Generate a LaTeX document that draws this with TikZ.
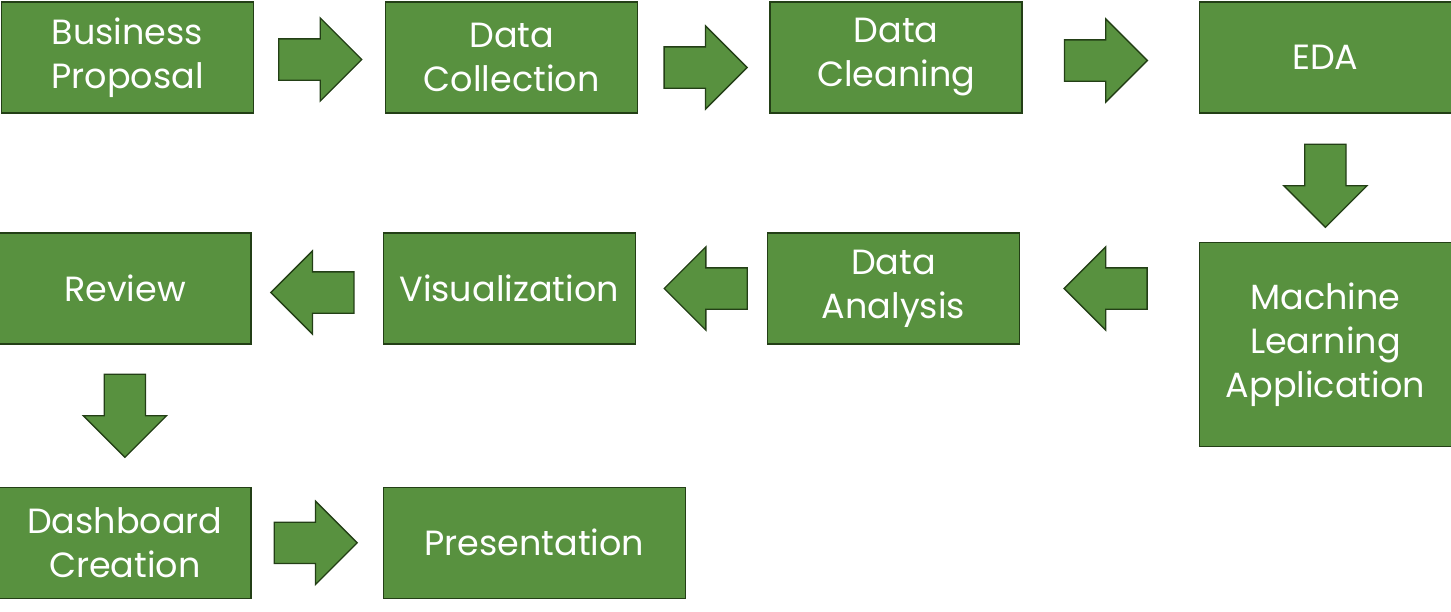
\documentclass[tikz,border=0pt]{standalone}
\usepackage{fontspec}
\setmainfont{Poppins}
\usepackage{xcolor}
\usepackage{tikz}
\usetikzlibrary{arrows,positioning,calc,shapes.arrows}

\definecolor{stepgreen}{HTML}{58913F}
\definecolor{stepborder}{HTML}{233F16}

\begin{document}
\begin{tikzpicture}[x=1pt,y=-1pt,
			block/.style = {draw=stepborder, fill=stepgreen, line width=1.3pt, shape=rectangle,
				minimum width=252pt, minimum height=111pt, align=center, text=white,
				font=\fontsize{35}{44}\selectfont},
			blockarrow/.style = {draw=stepborder, fill=stepgreen, line width=1.3pt, single arrow,
				single arrow head extend=21pt, single arrow head indent=0pt,
				minimum height=83pt, inner sep=20pt, anchor=tail}
			]
			\useasboundingbox (0,0) rectangle (1451,611);
			% top row
			\node [block] (proposal) at (127.5,57.5) {Business\\Proposal};
			\node [block, right=131pt of proposal] (collection) {Data\\Collection};
			\node [block, right=131pt of collection] (cleaning) {Data\\Cleaning};
			\node [block, right=176pt of cleaning] (eda) {EDA};
			\node [block, minimum height=204pt, below=128pt of eda] (ml) {Machine\\Learning\\Application};
			% middle row
			\node [block] (analysis) at (893.5,288.5) {Data\\Analysis};
			\node [block, left=131pt of analysis] (visual) {Visualization};
			\node [block, left=131pt of visual] (review) {Review};
			% bottom row
			\node [block, below=142pt of review] (dashboard) {Dashboard\\Creation};
			\node [block, minimum width=302pt, anchor=west] (presentation) at ($(dashboard.east)+(131,0)$) {Presentation};
			% arrows
			\node [blockarrow] (a1) at ($(proposal.east)+(24,2)$) {};
			\node [blockarrow] (a2) at ($(collection.east)+(25,10)$) {};
			\node [blockarrow] (a3) at ($(cleaning.east)+(41,3)$) {};
			\node [blockarrow, shape border rotate=270] (a4) at ($(eda.south)+(0,30)$) {};
			\node [blockarrow, shape border rotate=180] (a5) at ($(ml.west |- analysis)+(-51,0)$) {};
			\node [blockarrow, shape border rotate=180] (a6) at ($(analysis.west)+(-19,0)$) {};
			\node [blockarrow, shape border rotate=180] (a7) at ($(visual.west)+(-28,4)$) {};
			\node [blockarrow, shape border rotate=270] (a8) at ($(review.south)+(0,29)$) {};
			\node [blockarrow] (a9) at ($(dashboard.east)+(22,0)$) {};
		\end{tikzpicture}
\end{document}
